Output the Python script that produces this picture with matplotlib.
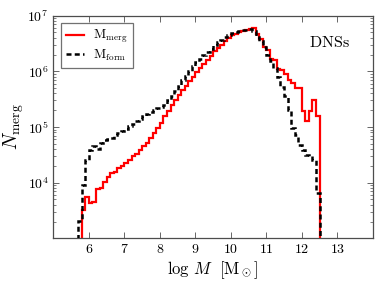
import numpy as np
import matplotlib
matplotlib.use("Agg")
import matplotlib.pyplot as plt
from matplotlib.ticker import FixedLocator, FixedFormatter, NullFormatter, LogLocator, FuncFormatter

plt.rcParams['mathtext.fontset'] = 'cm'
plt.rcParams['font.family'] = 'serif'
plt.rcParams['font.serif'] = ['cmr10', 'DejaVu Serif']
plt.rcParams['axes.formatter.use_mathtext'] = True

# bin edges (log M)
merg_edges = np.round(np.arange(5.8, 12.501, 0.1), 2)
form_edges = np.round(np.arange(5.7, 12.501, 0.1), 2)

# log10 of counts per bin
merg_log = [3.51, 3.74,
            3.63, 3.65, 3.89, 3.90, 4.02, 4.10, 4.17, 4.20, 4.26, 4.30,
            4.35, 4.41, 4.47, 4.52, 4.59, 4.65, 4.71, 4.80, 4.90, 4.98,
            5.07, 5.19, 5.29, 5.39, 5.49, 5.58, 5.66, 5.74, 5.82, 5.90,
            5.98, 6.06, 6.14, 6.21, 6.28, 6.36, 6.42, 6.48, 6.55, 6.60,
            6.65, 6.68, 6.71, 6.73, 6.74, 6.76, 6.78, 6.68, 6.59, 6.44,
            6.38, 6.22, 6.20, 6.04, 6.02, 5.95, 5.85, 5.79, 5.70, 5.70,
            5.28, 5.10, 5.28, 5.49, 5.19]
form_log = [3.31, 3.95, 4.40,
            4.59, 4.65, 4.60, 4.72, 4.76, 4.78, 4.81, 4.85, 4.89, 4.93,
            4.97, 5.01, 5.06, 5.10, 5.15, 5.19, 5.23, 5.27, 5.31, 5.34,
            5.36, 5.39, 5.48, 5.56, 5.65, 5.74, 5.84, 5.92, 6.01, 6.09,
            6.16, 6.23, 6.30, 6.35, 6.41, 6.47, 6.52, 6.57, 6.62, 6.66,
            6.69, 6.71, 6.72, 6.74, 6.75, 6.76, 6.72, 6.62, 6.55, 6.44,
            6.30, 6.18, 6.06, 5.90, 5.72, 5.55, 5.30, 4.98, 4.86, 4.68,
            4.59, 4.50, 4.48, 4.41, 3.81]

xticks = [6, 7, 8, 9, 10, 11, 12, 13]
yticks = [1e4, 1e5, 1e6, 1e7]
ytick_labels = [r'$10^{4}$', r'$10^{5}$', r'$10^{6}$', r'$10^{7}$']

merg_vals = 10.0 ** np.array(merg_log)
form_vals = 10.0 ** np.array(form_log)

fig = plt.figure(figsize=(3.82, 2.88), dpi=100)
ax = fig.add_axes([0.140, 0.1726, 0.8357, 0.7729])

ax.stairs(merg_vals, merg_edges, baseline=1.0, color='red', lw=1.6,
          label=r'$\mathrm{M_{merg}}$', zorder=2)
ax.stairs(form_vals, form_edges, baseline=1.0, color='black', lw=1.8,
          linestyle=(0, (2.0, 1.3)), label=r'$\mathrm{M_{form}}$', zorder=3)

ax.set_yscale('log')
ax.set_xlim(5, 14)
ax.set_ylim(1e3, 1e7)

ax.xaxis.set_major_locator(FixedLocator(xticks))
ax.xaxis.set_major_formatter(FuncFormatter(lambda v, p: r'$%d$' % int(round(v))))
ax.yaxis.set_major_locator(FixedLocator(yticks))
ax.yaxis.set_major_formatter(FixedFormatter(ytick_labels))
ax.yaxis.set_minor_locator(LogLocator(base=10, subs=np.arange(2, 10)))
ax.yaxis.set_minor_formatter(NullFormatter())

ax.tick_params(which='both', direction='in', top=True, right=True, labelsize=10,
               color='0.3')
ax.tick_params(which='major', length=4, width=0.6)
ax.tick_params(which='minor', length=2, width=0.5)
for s in ax.spines.values():
    s.set_color('0.3')
    s.set_linewidth(0.9)

ax.set_xlabel(r'$\mathrm{log}\ M\ \ [\mathrm{M}_\odot]$', fontsize=12, labelpad=2)
ax.set_ylabel(r'$N_{\mathrm{merg}}$', fontsize=14, labelpad=1)

ax.text(0.863, 0.88, r'$\mathrm{DNSs}$', transform=ax.transAxes, fontsize=11.5,
        ha='center', va='center')

leg = ax.legend(loc='upper left', fontsize=9.5, fancybox=False, frameon=True,
                handlelength=1.4, handletextpad=0.65, borderpad=0.4,
                labelspacing=0.15, borderaxespad=0.55)
leg.get_frame().set_edgecolor('0.3')
leg.get_frame().set_linewidth(0.9)

fig.savefig('out.png', dpi=100)
